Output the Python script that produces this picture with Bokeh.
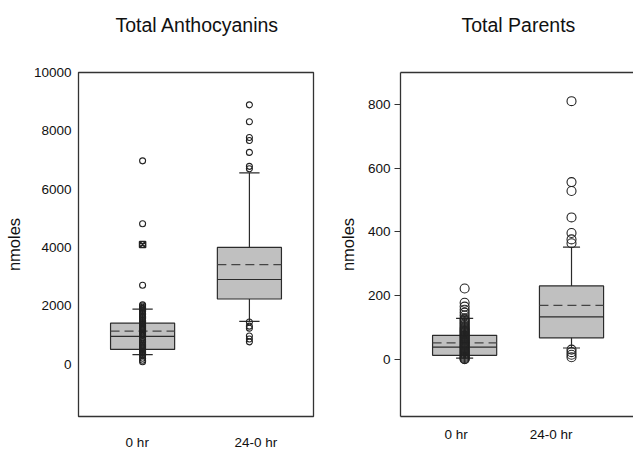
from bokeh.plotting import figure
from bokeh.layouts import row
from bokeh.models import Range1d, FixedTicker, LinearAxis, Title
from bokeh.embed import file_html
from bokeh.resources import INLINE

categories = ["0 hr", "24-0 hr"]

# Total Anthocyanins (nmoles)
anth_q1 = [500, 2230]
anth_median = [950, 2900]
anth_q3 = [1400, 4000]
anth_mean = [1130, 3410]
anth_whisk_low = [320, 1460]
anth_whisk_high = [1880, 6560]
anth_points_0hr = [6970, 4810, 2700, 2030, 1990, 1950, 1910, 1880, 1840, 1790,
                   1740, 1690, 1640, 1600, 1550, 1500, 1460, 1420, 1380, 1340,
                   1300, 1260, 1220, 1180, 1140, 1100, 1060, 1020, 980, 900,
                   820, 760, 720, 680, 640, 600, 560, 520, 480, 440, 400, 360,
                   320, 280, 200, 130, 80]
anth_cross_0hr = [4100]
anth_points_24hr = [8890, 8310, 7770, 7670, 7260, 6780, 6700,
                    1440, 1300, 1230, 960, 860, 760]

# Total Parents (nmoles)
par_q1 = [12, 67]
par_median = [38, 133]
par_q3 = [75, 230]
par_mean = [51, 169]
par_whisk_low = [3, 35]
par_whisk_high = [128, 352]
par_points_0hr = [222, 177, 165, 155, 146, 137, 128, 124, 120, 116, 112, 108,
                  104, 100, 97, 94, 91, 88, 85, 82, 79, 76, 73, 70, 67, 64,
                  61, 58, 55, 52, 49, 46, 43, 40, 37, 34, 31, 28, 25, 22, 19,
                  16, 13, 10, 7, 4, 1, 0]
par_points_24hr = [810, 556, 528, 445, 396, 376, 364, 30, 22, 14, 6]

anth_ticks = [0, 2000, 4000, 6000, 8000, 10000]
par_ticks = [0, 200, 400, 600, 800]

titles = ["Total Anthocyanins", "Total Parents"]

FONT = "Liberation Sans"
DARK = "#2b2b2b"
BOX_FILL = "#c0c0c0"


def draw_boxes(p, q1, med, q3, mean, lo, hi, box_w, cap_w):
    xs = list(range(len(categories)))
    p.vbar(x=xs, width=box_w, bottom=q1, top=q3, fill_color=BOX_FILL,
           line_color=DARK, line_width=1.2)
    p.segment(x0=xs, x1=xs, y0=q3, y1=hi, line_color=DARK, line_width=1.2)
    p.segment(x0=xs, x1=xs, y0=lo, y1=q1, line_color=DARK, line_width=1.2)
    p.segment(x0=[x - cap_w / 2 for x in xs], x1=[x + cap_w / 2 for x in xs],
              y0=hi, y1=hi, line_color=DARK, line_width=1.2)
    p.segment(x0=[x - cap_w / 2 for x in xs], x1=[x + cap_w / 2 for x in xs],
              y0=lo, y1=lo, line_color=DARK, line_width=1.2)
    p.segment(x0=[x - box_w / 2 for x in xs], x1=[x + box_w / 2 for x in xs],
              y0=med, y1=med, line_color=DARK, line_width=1.2)
    p.segment(x0=[x - box_w / 2 for x in xs], x1=[x + box_w / 2 for x in xs],
              y0=mean, y1=mean, line_color="#444444", line_width=1.2,
              line_dash="9 5")


def style_common(p, title, offset):
    p.xgrid.visible = False
    p.ygrid.visible = False
    p.background_fill_color = "white"
    p.border_fill_color = "white"
    p.title.text = title
    p.title.text_font = FONT
    p.title.text_font_size = "19.5px"
    p.title.text_font_style = "normal"
    p.title.text_color = "#111111"
    p.title.align = "left"
    p.title.offset = offset
    # spacer between frame and title (the plot title stacks outside it)
    p.add_layout(Title(text=" ", text_font_size="1px", standoff=29), "above")
    xa, ya = p.below[0], p.left[0]
    for ax in (xa, ya):
        ax.major_label_text_font = FONT
        ax.major_label_text_font_size = "13.5px"
        ax.major_label_text_color = "#111111"
        ax.minor_tick_line_color = None
        ax.major_tick_in = 0
    ya.axis_label = "nmoles"
    ya.axis_label_text_font = FONT
    ya.axis_label_text_font_size = "16.5px"
    ya.axis_label_text_font_style = "normal"
    ya.axis_label_text_color = "#111111"
    xa.major_tick_line_color = None
    return xa, ya


# ---------- left panel ----------
p1 = figure(width=316, height=452, x_range=Range1d(-0.6, 1.6),
            y_range=Range1d(-1800, 10000), output_backend="svg",
            toolbar_location=None, min_border_left=78, min_border_right=3,
            min_border_top=72, min_border_bottom=34)
xa1, ya1 = style_common(p1, titles[0], 37)
p1.outline_line_color = "#333333"
p1.outline_line_width = 1.3
ya1.ticker = FixedTicker(ticks=anth_ticks)
ya1.axis_line_color = None
ya1.major_tick_line_color = None
ya1.major_tick_out = 0
ya1.major_label_standoff = 7
ya1.axis_label_standoff = 8
xa1.axis_line_color = None
xa1.major_tick_out = 0
xa1.major_label_standoff = 18
xa1.ticker = FixedTicker(ticks=[-0.05, 1.06])
xa1.major_label_overrides = {-0.05: categories[0], 1.06: categories[1]}

draw_boxes(p1, anth_q1, anth_median, anth_q3, anth_mean,
           anth_whisk_low, anth_whisk_high, 0.6, 0.19)
p1.scatter(x=[0] * len(anth_points_0hr), y=anth_points_0hr, marker="circle",
           size=6, fill_color=None, line_color="#222222", line_width=1.1)
p1.scatter(x=[0] * len(anth_cross_0hr), y=anth_cross_0hr, marker="square_x",
           size=6, fill_color=None, line_color="#222222", line_width=1.6)
p1.scatter(x=[1] * len(anth_points_24hr), y=anth_points_24hr, marker="circle",
           size=6, fill_color=None, line_color="#222222", line_width=1.1)

# ---------- right panel ----------
p2 = figure(width=317, height=452, x_range=Range1d(-0.6, 1.58),
            y_range=Range1d(-180, 900), output_backend="svg",
            toolbar_location=None, min_border_left=84, min_border_right=0,
            min_border_top=72, min_border_bottom=31)
top_axis = LinearAxis(ticker=FixedTicker(ticks=[]), major_tick_out=0,
                      major_tick_in=0, minor_tick_out=0, minor_tick_in=0,
                      axis_line_color="#333333", axis_line_width=1.3,
                      major_label_standoff=0)
p2.add_layout(top_axis, "above")
xa2, ya2 = style_common(p2, titles[1], 61)
p2.outline_line_color = None
ya2.ticker = FixedTicker(ticks=par_ticks)
ya2.axis_line_color = "#333333"
ya2.axis_line_width = 1.3
ya2.major_tick_line_color = "#333333"
ya2.major_tick_out = 6
ya2.major_label_standoff = 4
ya2.axis_label_standoff = 8
xa2.axis_line_color = "#333333"
xa2.axis_line_width = 1.3
xa2.major_tick_out = 0
xa2.major_label_standoff = 10
xa2.ticker = FixedTicker(ticks=[-0.08, 0.81])
xa2.major_label_overrides = {-0.08: categories[0], 0.81: categories[1]}

draw_boxes(p2, par_q1, par_median, par_q3, par_mean,
           par_whisk_low, par_whisk_high, 0.6, 0.16)
p2.scatter(x=[0] * len(par_points_0hr), y=par_points_0hr, marker="circle",
           size=9, fill_color=None, line_color="#222222", line_width=1.1)
p2.scatter(x=[1] * len(par_points_24hr), y=par_points_24hr, marker="circle",
           size=9, fill_color=None, line_color="#222222", line_width=1.1)

layout = row(p1, p2)
open("out.html", "w").write(file_html(layout, INLINE))
